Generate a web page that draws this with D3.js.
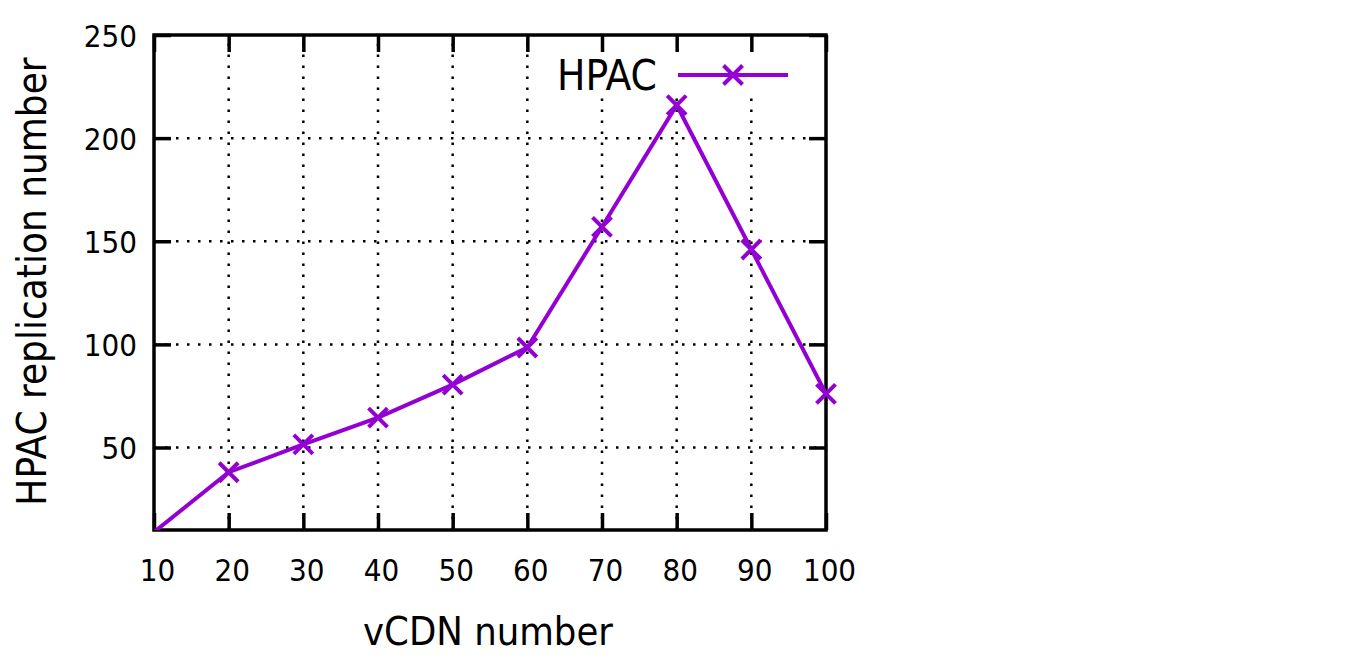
<!DOCTYPE html>
<meta charset="utf-8">
<script src="https://d3js.org/d3.v7.min.js"></script>
<style type="text/css">
    body {
        margin: 0;
        background: #fff;
    }

    text {
        font-family: "DejaVu Sans Condensed", "DejaVu Sans", sans-serif;
        font-stretch: condensed;
        fill: #000;
    }

    .axis path {
        display: none;
    }

    .axis line {
        stroke: #000;
        stroke-width: 3.5;
    }

    .grid line {
        stroke: #000;
        stroke-width: 2.5;
        stroke-dasharray: 2.5, 8.5;
    }
</style>
<body>
<script>
    // data
    var vcdn = [10, 20, 30, 40, 50, 60, 70, 80, 90, 100];
    var hpac = [9, 38, 51.5, 64.5, 80.5, 98.5, 157, 216, 146, 76];
    var xTicks = [10, 20, 30, 40, 50, 60, 70, 80, 90, 100];
    var yTicks = [50, 100, 150, 200, 250];
    var seriesName = "HPAC";

    var margin = {top: 35, right: 540, bottom: 128, left: 154},
        width = 1366 - margin.left - margin.right,
        height = 658 - margin.top - margin.bottom,
        tickLen = 17,
        lineColor = "#9400d3";

    var x = d3.scaleLinear().domain([10, 100]).range([0, width]),
        y = d3.scaleLinear().domain([10, 250]).range([height, 0]);

    var points = vcdn.map(function(d, i) {
        return {x: d, y: hpac[i]};
    });

    var svg = d3.select("body")
        .append("svg")
        .attr("width", 1366)
        .attr("height", 658)
        .append("g")
        .attr("transform", "translate(" + margin.left + "," + margin.top + ")");

    svg.append("defs").append("clipPath")
        .attr("id", "plot-clip")
        .append("rect")
        .attr("width", width)
        .attr("height", height);

    // dotted grid
    svg.append("g")
        .attr("class", "grid")
        .selectAll("line")
        .data(xTicks.slice(1, -1))
        .enter()
        .append("line")
        .attr("x1", function(d) { return x(d); })
        .attr("x2", function(d) { return x(d); })
        .attr("y1", height)
        .attr("y2", 0);

    svg.append("g")
        .attr("class", "grid")
        .selectAll("line")
        .data(yTicks.slice(0, -1))
        .enter()
        .append("line")
        .attr("x1", 0)
        .attr("x2", width)
        .attr("y1", function(d) { return y(d); })
        .attr("y2", function(d) { return y(d); });

    // opaque key box hides the grid behind the legend
    var legendX = width - 169;
    svg.append("rect")
        .attr("x", legendX - 120)
        .attr("y", 0)
        .attr("width", 262)
        .attr("height", 62)
        .style("fill", "#fff");

    // axes, ticks pointing inward, mirrored on top and right
    var xAxis = svg.append("g")
        .attr("class", "axis")
        .attr("transform", "translate(0," + height + ")")
        .call(d3.axisBottom(x).tickValues(xTicks).tickSize(-tickLen).tickPadding(0));
    xAxis.selectAll("text")
        .attr("y", 0)
        .attr("dy", 0)
        .attr("transform", "translate(3,51)")
        .style("font-size", "31px");

    svg.append("g")
        .attr("class", "axis")
        .call(d3.axisTop(x).tickValues(xTicks).tickSize(-tickLen).tickFormat(""));

    var yAxis = svg.append("g")
        .attr("class", "axis")
        .call(d3.axisLeft(y).tickValues(yTicks).tickSize(-tickLen).tickPadding(0));
    yAxis.selectAll("text")
        .attr("x", -17)
        .attr("dy", "0.36em")
        .style("font-size", "31px");

    svg.append("g")
        .attr("class", "axis")
        .attr("transform", "translate(" + width + ",0)")
        .call(d3.axisRight(y).tickValues(yTicks).tickSize(-tickLen).tickFormat(""));

    // frame
    svg.append("rect")
        .attr("width", width)
        .attr("height", height)
        .style("fill", "none")
        .style("stroke", "#000")
        .style("stroke-width", 3.5);

    // legend
    var legend = svg.append("g")
        .attr("transform", "translate(" + legendX + ",40)");
    legend.append("text")
        .attr("x", 0)
        .attr("y", 15)
        .attr("text-anchor", "end")
        .style("font-size", "42px")
        .text(seriesName);
    legend.append("line")
        .attr("x1", 21)
        .attr("x2", 131)
        .style("stroke", lineColor)
        .style("stroke-width", 4);

    // series line
    var line = d3.line()
        .x(function(d) { return x(d.x); })
        .y(function(d) { return y(d.y); });

    svg.append("path")
        .datum(points)
        .attr("clip-path", "url(#plot-clip)")
        .attr("d", line)
        .style("fill", "none")
        .style("stroke", lineColor)
        .style("stroke-width", 4)
        .style("stroke-linejoin", "miter");

    function cross(sel, s) {
        sel.append("path")
            .attr("d", "M" + (-s) + "," + (-s) + "L" + s + "," + s + "M" + (-s) + "," + s + "L" + s + "," + (-s))
            .style("fill", "none")
            .style("stroke", lineColor)
            .style("stroke-width", 4);
    }

    svg.selectAll(".marker")
        .data(points.filter(function(d) { return d.y >= y.domain()[0]; }))
        .enter()
        .append("g")
        .attr("class", "marker")
        .attr("transform", function(d) { return "translate(" + x(d.x) + "," + y(d.y) + ")"; })
        .call(cross, 9.5);

    legend.append("g")
        .attr("transform", "translate(76,0)")
        .call(cross, 9.5);

    // axis titles
    svg.append("text")
        .attr("x", width / 2 - 2)
        .attr("y", height + 115)
        .attr("text-anchor", "middle")
        .style("font-size", "39.5px")
        .text("vCDN number");

    svg.append("text")
        .attr("transform", "translate(" + (-108) + "," + (height / 2 - 1) + ") rotate(-90)")
        .attr("text-anchor", "middle")
        .style("font-size", "40px")
        .text("HPAC replication number");
</script>
</body>
